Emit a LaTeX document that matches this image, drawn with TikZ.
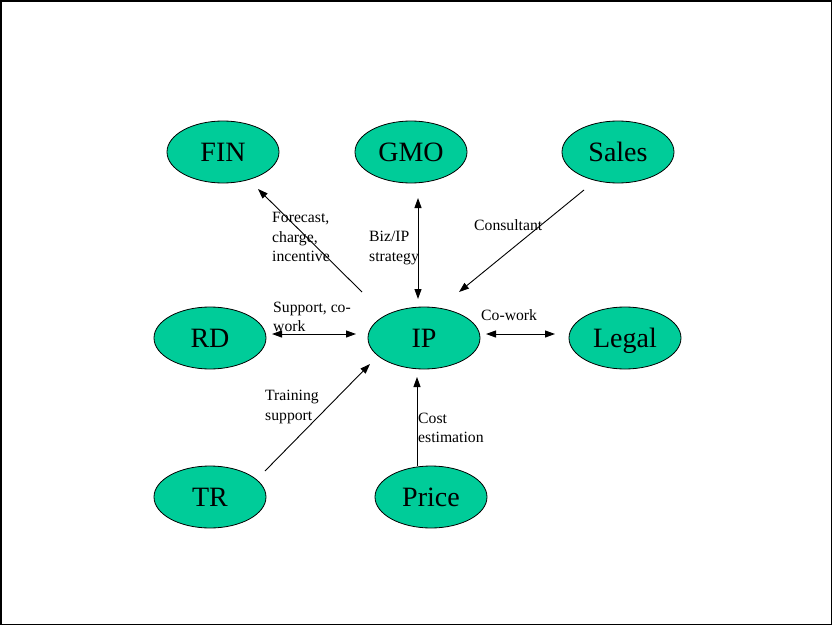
\documentclass[tikz,border=0pt]{standalone}
\usepackage{fontspec}
\setmainfont{Liberation Serif}
\usetikzlibrary{shapes.geometric,arrows.meta}
\definecolor{teal1}{HTML}{00CC99}
\begin{document}
\begin{tikzpicture}[x=1pt,y=-1pt,
  unit/.style={ellipse,draw=black,line width=0.8pt,fill=teal1,minimum width=112pt,minimum height=62pt,inner sep=0pt,text height=18.5pt,text depth=0pt,font=\fontsize{28}{30}\selectfont},
  lbl/.style={align=left,inner sep=0pt,anchor=west,font=\fontsize{15.7}{19.5}\selectfont},
  conn/.style={line width=0.9pt,-{Triangle[length=10pt,width=7pt]}},
  bconn/.style={line width=1pt,{Triangle[length=10pt,width=7pt]}-{Triangle[length=10pt,width=7pt]}}]
\useasboundingbox (0,0) rectangle (833,626);
\draw[line width=1.5pt] (1,1) rectangle (831.5,624.5);
\node[unit] (FIN) at (223,152) {FIN};
\node[unit] (GMO) at (411,152) {GMO};
\node[unit] (Sales) at (618,152) {Sales};
\node[unit] (RD) at (210,338) {RD};
\node[unit] (IP) at (424,338) {IP};
\node[unit] (Legal) at (625,338) {Legal};
\node[unit] (TR) at (210,497) {TR};
\node[unit] (Price) at (431,497) {Price};
\draw[conn] ([shift={(-62,-46)}]IP.center) -- ([shift={(35,37)}]FIN.center);
\draw[bconn] ([shift={(7,46)}]GMO.center) -- ([shift={(-6,-39)}]IP.center);
\draw[conn] ([shift={(-34,38)}]Sales.center) -- ([shift={(35,-46)}]IP.center);
\draw[bconn] ([shift={(62,-4)}]RD.center) -- ([shift={(-68,-4)}]IP.center);
\draw[bconn] ([shift={(62,-4)}]IP.center) -- ([shift={(-70,-4)}]Legal.center);
\draw[conn] ([shift={(55,-26)}]TR.center) -- ([shift={(-54,26)}]IP.center);
\draw[conn] ([shift={(-14,-31)}]Price.center) -- ([shift={(-7,39)}]IP.center);
\node[lbl] (l1) at (272,237) {Forecast,\\charge,\\incentive};
\node[lbl] (l2) at (369,248) {Biz/IP\\strategy};
\node[lbl] (l3) at (474,225) {Consultant};
\node[lbl] (l4) at (273,317) {Support, co-\\work};
\node[lbl] (l5) at (481,315) {Co-work};
\node[lbl] (l6) at (265,407) {Training\\support};
\node[lbl] (l7) at (418,428) {Cost\\estimation};
\end{tikzpicture}
\end{document}
